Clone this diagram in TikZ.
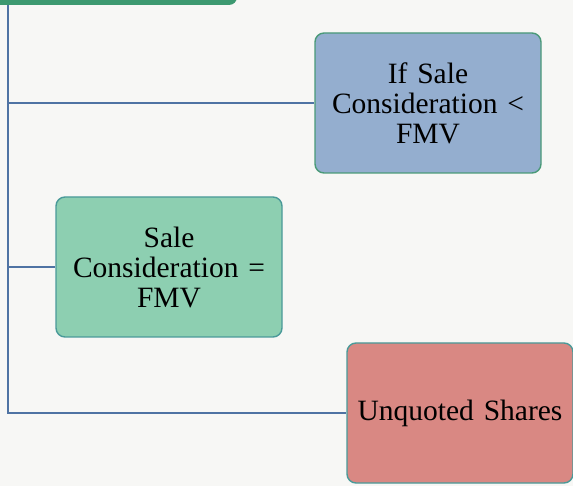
\documentclass[tikz,border=0pt]{standalone}
\usepackage{fontspec}
\setmainfont{Liberation Serif}
\definecolor{paper}{HTML}{F7F7F5}
\definecolor{barGreen}{HTML}{3D9970}
\definecolor{trunkBlue}{HTML}{4F73A3}
\definecolor{edgeGreen}{HTML}{4A9A78}
\definecolor{edgeTeal}{HTML}{4A9A99}
\definecolor{fillBlue}{HTML}{94AECF}
\definecolor{fillGreen}{HTML}{8DCFB1}
\definecolor{fillRed}{HTML}{D98883}
\tikzset{
  case/.style={draw, line width=1.4pt, rounded corners=9pt, minimum width=226pt,
    minimum height=140pt, text width=210pt, align=center,
    font=\fontsize{29.5}{30}\selectfont},
  branch/.style={draw=trunkBlue, line width=1.3pt}
}
\begin{document}
\begin{tikzpicture}[x=1pt,y=-1pt]
    % Page and header bar
    \fill [paper] (0,0) rectangle (573,486);
    \useasboundingbox (0,0) rectangle (573,486);
    \fill [barGreen, rounded corners=8pt] (-10,-20) rectangle (237,5);
    % The three cases
    \node [case, draw=edgeGreen, fill=fillBlue] (less) at (428,103) {If Sale\\Consideration <\\FMV};
    \node [case, draw=edgeTeal, fill=fillGreen] (equal) at (169,267) {Sale\\Consideration =\\FMV};
    \node [case, draw=edgeTeal, fill=fillRed] (unquoted) at (460,413) {Unquoted Shares};
    % Drawing the trunk and the branches
    \coordinate (root) at (8,5);
    \draw [branch] (root) |- (unquoted.west);
    \draw [branch] (root |- less.west) -- (less.west);
    \draw [branch] (root |- equal.west) -- (equal.west);
  \end{tikzpicture}
\end{document}
